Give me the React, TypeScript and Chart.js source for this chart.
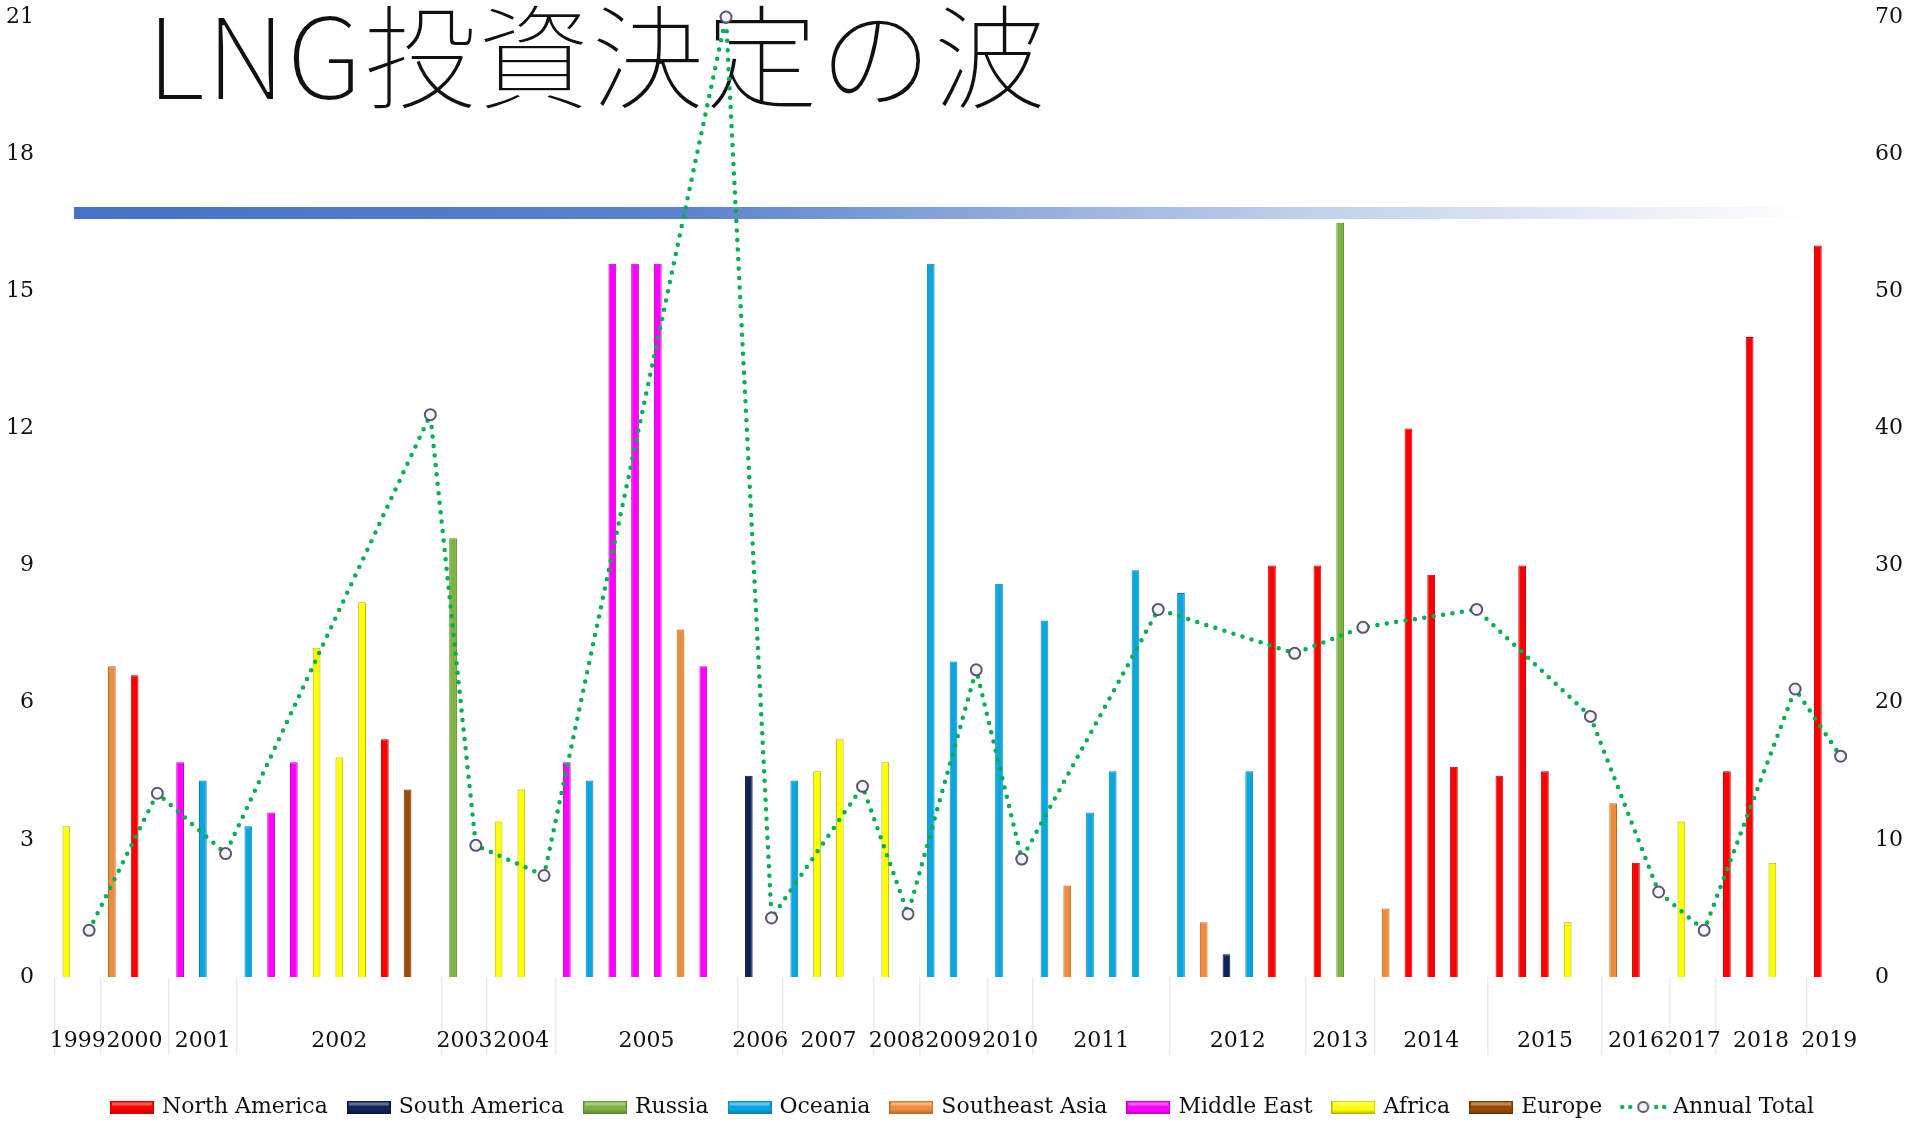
import React, { useEffect, useRef } from 'react';
import { Chart, registerables } from 'chart.js';

Chart.register(...registerables);

// ---- Data ----
const regionCodes = ['NA', 'SA', 'RU', 'OC', 'SE', 'ME', 'AF', 'EU'];
const regionNames = ['North America', 'South America', 'Russia', 'Oceania', 'Southeast Asia', 'Middle East', 'Africa', 'Europe'];
const regionColors = ['#FF0000', '#0F2458', '#7CB342', '#0BA6E0', '#EE8C3E', '#FF00FF', '#FFFF00', '#9A4A06'];
const regionEdges = ['#C40000', '#08163A', '#5C8A2C', '#0784B4', '#BE6A28', '#C400C4', '#B5B500', '#6A3204'];

const years = ['1999', '2000', '2001', '2002', '2003', '2004', '2005', '2006', '2007', '2008', '2009', '2010', '2011', '2012', '2013', '2014', '2015', '2016', '2017', '2018', '2019'];
const projectsPerYear = [1, 2, 2, 8, 1, 2, 7, 1, 3, 1, 2, 1, 5, 5, 2, 4, 4, 2, 1, 3, 1];
const projectRegion = [
  'AF',
  'SE', 'NA',
  'ME', 'OC',
  'OC', 'ME', 'ME', 'AF', 'AF', 'AF', 'NA', 'EU',
  'RU',
  'AF', 'AF',
  'ME', 'OC', 'ME', 'ME', 'ME', 'SE', 'ME',
  'SA',
  'OC', 'AF', 'AF',
  'AF',
  'OC', 'OC',
  'OC',
  'OC', 'SE', 'OC', 'OC', 'OC',
  'OC', 'SE', 'SA', 'OC', 'NA',
  'NA', 'RU',
  'SE', 'NA', 'NA', 'NA',
  'NA', 'NA', 'NA', 'AF',
  'SE', 'NA',
  'AF',
  'NA', 'NA', 'AF',
  'NA',
];
const projectCapacity = [
  3.3,
  6.8, 6.6,
  4.7, 4.3,
  3.3, 3.6, 4.7, 7.2, 4.8, 8.2, 5.2, 4.1,
  9.6,
  3.4, 4.1,
  4.7, 4.3, 15.6, 15.6, 15.6, 7.6, 6.8,
  4.4,
  4.3, 4.5, 5.2,
  4.7,
  15.6, 6.9,
  8.6,
  7.8, 2.0, 3.6, 4.5, 8.9,
  8.4, 1.2, 0.5, 4.5, 9.0,
  9.0, 16.5,
  1.5, 12.0, 8.8, 4.6,
  4.4, 9.0, 4.5, 1.2,
  3.8, 2.5,
  3.4,
  4.5, 14.0, 2.5,
  16.0,
];
const annualTotal = [3.4, 13.4, 9.0, 41.0, 9.6, 7.4, 70, 4.3, 13.9, 4.6, 22.4, 8.6, 26.8, 23.6, 25.5, 26.8, 19.0, 6.2, 3.4, 21.0, 16.1];

const leftTicksMax = 21;
const rightTicksMax = 70;

// ---- Slot structure (each year: its projects, then one slot for the annual total) ----
const slotLabels: string[] = [];
const slotRegion: (string | null)[] = [];
const slotValue: (number | null)[] = [];
const slotTotal: (number | null)[] = [];
const yearCenters: number[] = [];
const yearBoundaries = new Set<number>([0]);
(() => {
  let p = 0;
  years.forEach((y, yi) => {
    const start = slotLabels.length;
    for (let k = 0; k < projectsPerYear[yi]; k++) {
      slotLabels.push(`${y}-${k + 1}`);
      slotRegion.push(projectRegion[p]);
      slotValue.push(projectCapacity[p]);
      slotTotal.push(null);
      p++;
    }
    slotLabels.push(`${y} total`);
    slotRegion.push(null);
    slotValue.push(null);
    slotTotal.push(annualTotal[yi]);
    const end = slotLabels.length - 1;
    yearCenters.push((start + end) / 2);
    yearBoundaries.add(end + 1);
  });
})();

const FONT = 'DejaVu Serif';

function makeBarSwatch(color: string, edge: string): HTMLCanvasElement {
  const c = document.createElement('canvas');
  c.width = 44;
  c.height = 13;
  const g = c.getContext('2d')!;
  g.fillStyle = edge;
  g.fillRect(0, 0, 44, 13);
  g.fillStyle = color;
  g.fillRect(1, 1, 42, 11);
  g.fillStyle = 'rgba(255,255,255,0.35)';
  g.fillRect(2, 2, 40, 3);
  g.fillStyle = 'rgba(0,0,0,0.12)';
  g.fillRect(1, 10, 42, 2);
  return c;
}

function makeLineSwatch(): HTMLCanvasElement {
  const c = document.createElement('canvas');
  c.width = 48;
  c.height = 14;
  const g = c.getContext('2d')!;
  g.fillStyle = '#00B050';
  [3, 11, 37, 45].forEach((x) => {
    g.beginPath();
    g.arc(x, 7, 2.2, 0, Math.PI * 2);
    g.fill();
  });
  g.beginPath();
  g.arc(24, 7, 5, 0, Math.PI * 2);
  g.fillStyle = '#F4F4F8';
  g.fill();
  g.lineWidth = 2;
  g.strokeStyle = '#5B5670';
  g.stroke();
  return c;
}

export default function App() {
  const canvasRef = useRef<HTMLCanvasElement | null>(null);

  useEffect(() => {
    document.body.style.margin = '0';
    const canvas = canvasRef.current;
    if (!canvas) return;

    const swatches: HTMLCanvasElement[] = regionCodes.map((_, i) => makeBarSwatch(regionColors[i], regionEdges[i]));
    swatches.push(makeLineSwatch());

    const barDatasets = regionCodes.map((code, ri) => ({
      type: 'bar' as const,
      label: regionNames[ri],
      data: slotValue.map((v, i) => (slotRegion[i] === code ? v : null)),
      backgroundColor: regionColors[ri],
      borderColor: regionEdges[ri],
      borderWidth: 1,
      grouped: false,
      barPercentage: 0.34,
      categoryPercentage: 1,
      xAxisID: 'x',
      yAxisID: 'y',
      order: 2,
    }));

    const lineDataset = {
      type: 'line' as const,
      label: 'Annual Total',
      data: slotTotal,
      xAxisID: 'x',
      yAxisID: 'y1',
      spanGaps: true,
      borderColor: '#00B050',
      borderWidth: 4.5,
      borderDash: [0, 9.5],
      borderCapStyle: 'round' as const,
      tension: 0,
      pointRadius: 5.5,
      pointBorderWidth: 2,
      pointBorderColor: '#5B5670',
      pointBackgroundColor: '#F4F4F8',
      clip: false as const,
      order: 0,
    };

    const tickFont = { family: FONT, size: 22 };
    const noVerticalOverflow = (s: any) => {
      s.paddingTop = 0;
      s.paddingBottom = 0;
    };

    const chart = new Chart(canvas, {
      type: 'bar',
      data: {
        labels: slotLabels,
        datasets: [...barDatasets, lineDataset] as any,
      },
      options: {
        animation: false,
        responsive: false,
        maintainAspectRatio: false,
        layout: { padding: { top: 17, left: 0, right: 0, bottom: 0 } },
        plugins: {
          title: { display: false },
          tooltip: { enabled: false },
          legend: {
            position: 'bottom',
            labels: {
              usePointStyle: true,
              pointStyleWidth: 38,
              boxHeight: 13,
              padding: 22,
              color: '#111',
              font: { family: FONT, size: 22 },
              generateLabels: (ch: any) =>
                ch.data.datasets.map((ds: any, i: number) => ({
                  text: ds.label,
                  fillStyle: 'transparent',
                  strokeStyle: 'transparent',
                  lineWidth: 0,
                  hidden: !ch.isDatasetVisible(i),
                  datasetIndex: i,
                  pointStyle: swatches[i],
                  fontColor: '#111',
                })),
            },
          },
        },
        scales: {
          x: {
            type: 'category',
            position: 'bottom',
            offset: true,
            ticks: { display: false },
            grid: {
              offset: true,
              drawOnChartArea: false,
              drawTicks: true,
              tickLength: 78,
              lineWidth: 1.5,
              color: (ctx: any) => (yearBoundaries.has(ctx.index) ? '#EBEBEB' : 'rgba(0,0,0,0)'),
            },
            border: { display: false },
            afterFit: (s: any) => {
              s.height = 0;
            },
          },
          xYear: {
            type: 'linear',
            position: 'bottom',
            offset: false,
            min: -0.5,
            max: slotLabels.length - 0.5,
            afterBuildTicks: (s: any) => {
              s.ticks = yearCenters.map((v) => ({ value: v }));
            },
            ticks: {
              autoSkip: false,
              maxRotation: 0,
              padding: 51,
              color: '#111',
              font: tickFont,
              callback: (_v: any, i: number) => years[i],
            },
            grid: { display: false, drawTicks: false, offset: false },
            border: { display: false },
            afterFit: (s: any) => {
              s.height = 97;
              s.paddingLeft = 0;
              s.paddingRight = 0;
            },
          },
          y: {
            position: 'left',
            min: 0,
            max: leftTicksMax,
            ticks: { stepSize: 3, padding: 21, color: '#111', font: tickFont },
            grid: { display: false, drawTicks: false },
            border: { display: false },
            afterFit: (s: any) => {
              s.width = 55;
              noVerticalOverflow(s);
            },
          },
          y1: {
            position: 'right',
            min: 0,
            max: rightTicksMax,
            ticks: { stepSize: 10, padding: 23, color: '#111', font: tickFont },
            grid: { display: false, drawTicks: false },
            border: { display: false },
            afterFit: (s: any) => {
              s.width = 75;
              noVerticalOverflow(s);
            },
          },
        },
      } as any,
    });

    return () => {
      chart.destroy();
    };
  }, []);

  return (
    <div
      style={{
        position: 'fixed',
        left: 0,
        top: 0,
        width: 1927,
        height: 1125,
        overflow: 'hidden',
        background: '#ffffff',
      }}
    >
      <div
        style={{
          position: 'absolute',
          left: 74,
          top: 207,
          width: 1735,
          height: 12,
          background: 'linear-gradient(to right, #4472C4 0%, #5A83CC 35%, rgba(68,114,196,0.35) 70%, rgba(68,114,196,0) 100%)',
        }}
      />
      <div
        style={{
          position: 'absolute',
          left: 146,
          top: -6,
          fontFamily: '"Noto Sans CJK JP", "Noto Sans", sans-serif',
          fontWeight: 300,
          fontSize: 114,
          lineHeight: '114px',
          whiteSpace: 'nowrap',
          color: '#111',
          WebkitTextStroke: '2px #ffffff',
          paintOrder: 'normal',
        }}
      >
        LNG投資決定の波
      </div>
      <canvas
        ref={canvasRef}
        width={1927}
        height={1128}
        style={{ position: 'absolute', left: 0, top: 0, width: 1927, height: 1128 }}
      />
    </div>
  );
}
